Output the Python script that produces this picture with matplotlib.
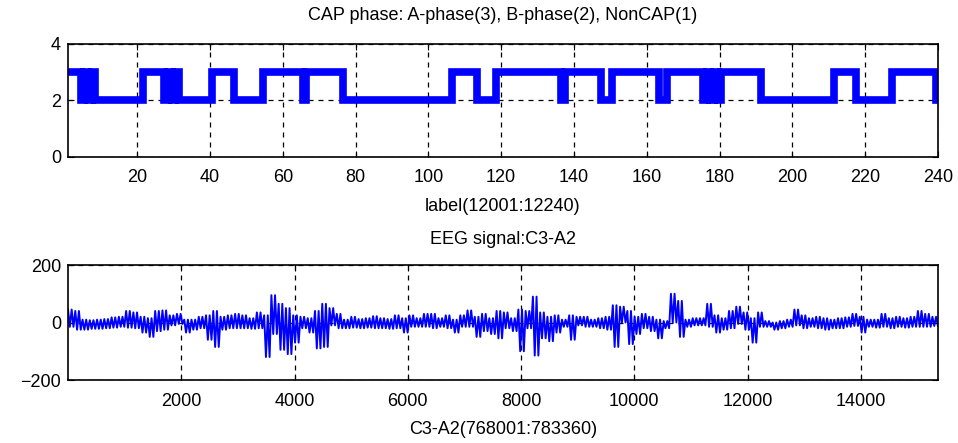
import numpy as np
import matplotlib
matplotlib.use('Agg')
import matplotlib.pyplot as plt

plt.rcParams['font.family'] = ['Liberation Sans', 'DejaVu Sans']

# CAP phase labels as runs of (value, length), samples 12001..12240
run_vals = [3, 2, 3, 2, 3, 2, 3, 2, 3, 2, 3, 2, 3, 2, 3, 2, 3, 2, 3,
            2, 3, 2, 3, 2, 3, 2, 3, 2, 3, 2, 3, 2, 3, 2]
run_lens = [4, 1, 1, 1, 1, 13, 6, 1, 1, 1, 1, 9, 6, 8, 11, 1, 10, 30, 7,
            5, 18, 1, 10, 3, 13, 2, 10, 1, 1, 1, 1, 1, 11, 20]
run_vals += [3, 2, 3, 2]
run_lens += [6, 10, 12, 1]
label = np.repeat(run_vals, run_lens)

# EEG C3-A2, per block of 128 samples: upper and lower excursion (uV)
eeg_hi = [45, 40, 10, 8, 10, 12, 18, 20, 40, 35, 20, 15, 40, 42, 25, 30,
          10, 10, 20, 25, 40, 20, 25, 30,
          25, 15, 35, 25, 95, 65, 50, 25, 20, 15, 40, 65, 50, 30, 10, 20,
          12, 15, 22, 15, 12, 25, 15, 25,
          15, 30, 30, 15, 25, 10, 25, 42, 20, 30, 15, 40, 35, 15, 45, 40,
          90, 35, 20, 25, 10, 25, 20, 20,
          10, 15, 20, 60, 55, 40, 20, 30, 20, 10, 5, 100, 75, 10, 15, 15,
          65, 25, 15, 40, 55, 35, 15, 35,
          5, 0, 5, 10, 45, 25, 15, 20, 15, 10, 15, 18, 30, 20, 10, 10,
          30, 15, 20, 15, 20, 40, 30, 20]
eeg_lo = [-15, -25, -25, -22, -22, -20, -18, -15, -18, -20, -35, -50, -30, -25, -10, -5,
          -35, -25, -20, -60, -85, -25, -20, -20,
          -20, -22, -20, -120, -40, -95, -110, -70, -20, -35, -90, -85, -10, -20, -20, -18,
          -20, -18, -20, -20, -22, -20, -35, -15,
          -15, -15, -20, -15, -20, -35, -15, -15, -50, -30, -40, -55, -20, -30, -100, -20,
          -115, -55, -65, -35, -15, -60, -10, -15,
          -15, -20, -25, -85, 0, -75, -40, -20, -30, -55, -20, 0, -50, -15, -10, -10,
          -15, -35, -25, -20, -5, -25, -70, -15,
          -15, -25, -20, -15, -10, -20, -15, -20, -25, -20, -20, -15, -12, -35, -15, -18,
          -15, -20, -15, -18, -15, -15, -15, -12]

# swing between the two excursions twice in each block
pairs = np.column_stack([eeg_hi, eeg_lo])
eeg = np.tile(pairs, 2).ravel()
t_eeg = np.linspace(1, 15360, len(eeg))

fig = plt.figure(figsize=(9.58, 4.43), dpi=100)
ax1 = fig.add_axes([0.071, 0.6456, 0.908, 0.2551])
ax2 = fig.add_axes([0.071, 0.1422, 0.908, 0.2596])

ax1.plot(np.arange(1, len(label) + 1), label, color='#0000ff', lw=5.5,
         drawstyle='steps-mid', solid_joinstyle='miter')
ax1.set_xlim(1, 240)
ax1.set_ylim(0, 4)
ax1.set_xticks(range(20, 241, 20))
ax1.set_yticks([0, 2, 4])
ax1.set_title('CAP phase: A-phase(3), B-phase(2), NonCAP(1)', fontsize=13, pad=17)
ax1.set_xlabel('label(12001:12240)', fontsize=13, labelpad=8)

ax2.plot(t_eeg, eeg, color='#0000ff', lw=1.4)
ax2.set_xlim(1, 15360)
ax2.set_ylim(-200, 200)
ax2.set_xticks(range(2000, 15000, 2000))
ax2.set_yticks([-200, 0, 200])
ax2.set_title('EEG signal:C3-A2', fontsize=13, pad=15)
ax2.set_xlabel('C3-A2(768001:783360)', fontsize=13, labelpad=8)

for ax in (ax1, ax2):
    ax.grid(True, color='black', linestyle=(0, (4, 4)), linewidth=0.9)
    ax.set_axisbelow(True)
    ax.tick_params(direction='in', length=4, labelsize=13, top=True, right=True)
    ax.tick_params(axis='x', pad=9)
    ax.tick_params(axis='y', pad=5)
    for s in ax.spines.values():
        s.set_linewidth(1.2)

fig.savefig('out.png', dpi=100)
